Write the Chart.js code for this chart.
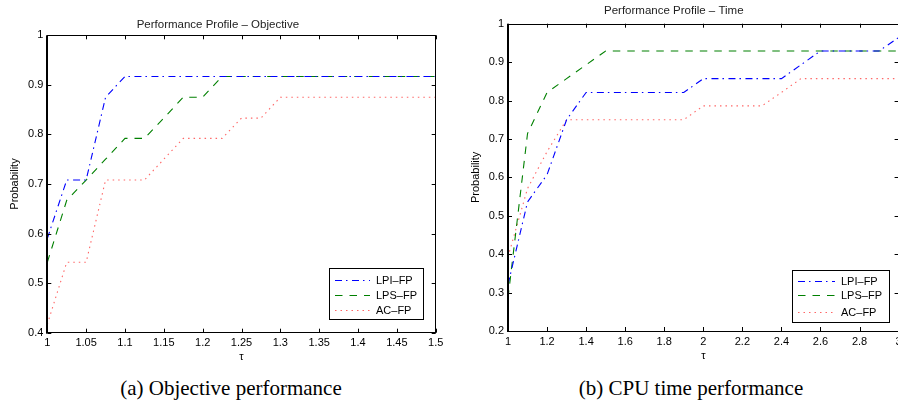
<!DOCTYPE html>
<html>
<head>
<meta charset="utf-8">
<script src="https://cdn.jsdelivr.net/npm/chart.js@4/dist/chart.umd.min.js"></script>
<style>
  html, body { margin: 0; padding: 0; background: #fff; width: 898px; height: 405px; overflow: hidden; }
  .wrap { position: absolute; top: 0; }
  .cap { position: absolute; top: 376px; font: 21px "Liberation Serif", "Times New Roman", serif; color: #000; white-space: nowrap; transform: translateX(-50%); }
</style>
</head>
<body>
<div class="wrap" style="left:0"><canvas id="objChart" width="449" height="372"></canvas></div>
<div class="wrap" style="left:449px"><canvas id="timeChart" width="470" height="372"></canvas></div>
<div class="cap" style="left:231px">(a) Objective performance</div>
<div class="cap" style="left:691px">(b) CPU time performance</div>
<script>
const seriesNames = ["LPI–FP", "LPS–FP", "AC–FP"];

// Performance Profile - Objective
const objTau = [1, 1.025, 1.05, 1.075, 1.1, 1.125, 1.15, 1.175, 1.2, 1.225, 1.25, 1.275, 1.3, 1.325, 1.35, 1.375, 1.4, 1.425, 1.45, 1.475, 1.5];
const objLPI = [0.59, 0.708, 0.708, 0.875, 0.917, 0.917, 0.917, 0.917, 0.917, 0.917, 0.917, 0.917, 0.917, 0.917, 0.917, 0.917, 0.917, 0.917, 0.917, 0.917, 0.917];
const objLPS = [0.542, 0.667, 0.708, 0.75, 0.792, 0.792, 0.833, 0.875, 0.875, 0.917, 0.917, 0.917, 0.917, 0.917, 0.917, 0.917, 0.917, 0.917, 0.917, 0.917, 0.917];
const objAC = [0.417, 0.542, 0.542, 0.708, 0.708, 0.708, 0.75, 0.792, 0.792, 0.792, 0.833, 0.833, 0.875, 0.875, 0.875, 0.875, 0.875, 0.875, 0.875, 0.875, 0.875];

// Performance Profile - Time
const timeTau = [1, 1.1, 1.2, 1.3, 1.4, 1.5, 1.6, 1.7, 1.8, 1.9, 2, 2.1, 2.2, 2.3, 2.4, 2.5, 2.6, 2.7, 2.8, 2.9, 3];
const timeLPI = [0.321, 0.536, 0.607, 0.75, 0.821, 0.821, 0.821, 0.821, 0.821, 0.821, 0.857, 0.857, 0.857, 0.857, 0.857, 0.893, 0.929, 0.929, 0.929, 0.929, 0.964];
const timeLPS = [0.286, 0.714, 0.821, 0.857, 0.893, 0.929, 0.929, 0.929, 0.929, 0.929, 0.929, 0.929, 0.929, 0.929, 0.929, 0.929, 0.929, 0.929, 0.929, 0.929, 0.929];
const timeAC = [0.393, 0.571, 0.667, 0.75, 0.75, 0.75, 0.75, 0.75, 0.75, 0.75, 0.786, 0.786, 0.786, 0.786, 0.821, 0.857, 0.857, 0.857, 0.857, 0.857, 0.857];

const styles = [
  { borderColor: "#0000ff", borderDash: [7, 4, 1.5, 4.5] },
  { borderColor: "#008000", borderDash: [7.5, 7] },
  { borderColor: "rgba(255,0,0,0.6)", borderDash: [1.5, 4] }
];

const font = { family: "'Liberation Sans', Arial, sans-serif", size: 11, weight: "normal" };
const titleFont = { family: "'Liberation Sans', Arial, sans-serif", size: 11.5, weight: "normal" };
const fmt = v => String(Number(v.toFixed(2)));

const matlabBox = {
  id: "matlabBox",
  afterDraw(chart, args, opts) {
    const { ctx, chartArea: a, scales } = chart;
    ctx.save();
    ctx.strokeStyle = "#000";
    ctx.lineWidth = 1;
    ctx.setLineDash([]);
    ctx.strokeRect(Math.round(a.left) + 0.5, Math.round(a.top) + 0.5, Math.round(a.right - a.left), Math.round(a.bottom - a.top));
    // left axis is a touch heavier, as in the original
    ctx.beginPath();
    ctx.moveTo(Math.round(a.left) - 0.5, a.top);
    ctx.lineTo(Math.round(a.left) - 0.5, a.bottom + 1);
    ctx.stroke();
    const len = 4;
    ctx.beginPath();
    scales.x.ticks.forEach(t => {
      const px = Math.round(scales.x.getPixelForValue(t.value)) + 0.5;
      ctx.moveTo(px, a.bottom); ctx.lineTo(px, a.bottom - len);
      ctx.moveTo(px, a.top); ctx.lineTo(px, a.top + len);
    });
    scales.y.ticks.forEach(t => {
      const py = Math.round(scales.y.getPixelForValue(t.value)) + 0.5;
      ctx.moveTo(a.left, py); ctx.lineTo(a.left + len, py);
      ctx.moveTo(a.right, py); ctx.lineTo(a.right - len, py);
    });
    ctx.stroke();

    // legend box
    const b = opts.box;
    ctx.fillStyle = "#fff";
    ctx.fillRect(b.x, b.y, b.w, b.h);
    ctx.strokeRect(b.x + 0.5, b.y + 0.5, b.w, b.h);
    ctx.font = "11px 'Liberation Sans', Arial, sans-serif";
    ctx.textBaseline = "middle";
    ctx.textAlign = "left";
    chart.data.datasets.forEach((ds, i) => {
      const y = Math.round(b.y + b.rows[i]) + 0.5;
      ctx.strokeStyle = ds.borderColor;
      ctx.lineWidth = ds.borderWidth;
      ctx.setLineDash(ds.borderDash);
      ctx.beginPath();
      ctx.moveTo(b.x + b.lineX0, y);
      ctx.lineTo(b.x + b.lineX1, y);
      ctx.stroke();
      ctx.setLineDash([]);
      ctx.fillStyle = "#000";
      ctx.fillText(ds.label, b.x + b.textX, y);
    });
    ctx.restore();
  }
};

function makeChart(id, cfg) {
  const datasets = cfg.series.map((vals, i) => ({
    label: seriesNames[i],
    data: cfg.tau.map((t, k) => ({ x: t, y: vals[k] })),
    borderColor: styles[i].borderColor,
    borderDash: styles[i].borderDash,
    borderWidth: 1.1,
    pointRadius: 0,
    tension: 0,
    fill: false
  }));
  new Chart(document.getElementById(id), {
    type: "line",
    data: { datasets },
    options: {
      responsive: false,
      animation: false,
      layout: { padding: { left: 0, right: cfg.padRight, top: 0, bottom: 0 } },
      plugins: {
        legend: { display: false },
        tooltip: { enabled: false },
        title: { display: true, text: cfg.title, color: "#222", font: titleFont, padding: cfg.titlePad },
        matlabBox: { box: cfg.legend }
      },
      scales: {
        x: {
          type: "linear", min: cfg.xMin, max: cfg.xMax,
          ticks: { stepSize: cfg.xStep, color: "#000", font, padding: 4, maxRotation: 0, autoSkip: false, callback: fmt },
          grid: { display: false, drawTicks: false },
          border: { display: false },
          title: { display: true, text: "τ", color: "#000", font, padding: { top: 0, bottom: cfg.xTitlePad } },
          afterFit: s => { s.height = cfg.xHeight; }
        },
        y: {
          min: cfg.yMin, max: 1,
          ticks: { stepSize: 0.1, color: "#000", font, padding: 4, callback: fmt },
          grid: { display: false, drawTicks: false },
          border: { display: false },
          title: { display: true, text: "Probability", color: "#000", font, padding: { top: cfg.yTitlePad, bottom: 0 } },
          afterFit: s => { s.width = cfg.yWidth; }
        }
      }
    },
    plugins: [matlabBox]
  });
}

makeChart("objChart", {
  tau: objTau, series: [objLPI, objLPS, objAC],
  title: "Performance Profile – Objective",
  xMin: 1, xMax: 1.5, xStep: 0.05, yMin: 0.4,
  padRight: 13.3, yWidth: 47.3, xHeight: 39.3,
  titlePad: { top: 17.9, bottom: 3.6 }, xTitlePad: 8.7, yTitlePad: 8.4,
  legend: { x: 329, y: 268, w: 94, h: 51, rows: [12, 26.5, 42], lineX0: 6, lineX1: 41, textX: 47 }
});

makeChart("timeChart", {
  tau: timeTau, series: [timeLPI, timeLPS, timeAC],
  title: "Performance Profile – Time",
  xMin: 1, xMax: 3, xStep: 0.2, yMin: 0.2,
  padRight: 20.4, yWidth: 59, xHeight: 41,
  titlePad: { top: 4.1, bottom: 5.8 }, xTitlePad: 9.7, yTitlePad: 20.1,
  legend: { x: 343, y: 270, w: 97, h: 52, rows: [10.7, 25, 41.7], lineX0: 6, lineX1: 43, textX: 49 }
});
</script>
</body>
</html>
